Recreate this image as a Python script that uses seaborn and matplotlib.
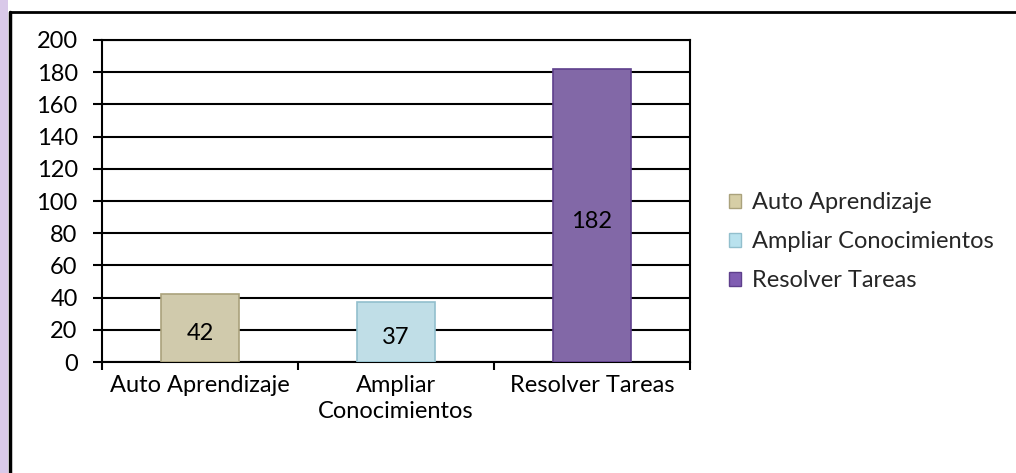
import pandas as pd
import seaborn as sns
from matplotlib import pyplot as plt
from matplotlib.lines import Line2D
from matplotlib.patches import Rectangle

# data
categories = ["Auto Aprendizaje", "Ampliar Conocimientos", "Resolver Tareas"]
tick_labels = ["Auto Aprendizaje", "Ampliar\nConocimientos", "Resolver Tareas"]
values = [42, 37, 182]
colors = ["#d6cea6", "#b9e2ee", "#805db2"]
edge_colors = ["#aaa27c", "#92bfcd", "#5e3f8c"]

sns.set_theme(style="white")
plt.rcParams['font.family'] = ['Lato', 'DejaVu Sans']
FS = 17

df = pd.DataFrame({"cat": categories, "val": values})

fig = plt.figure(figsize=(10.16, 4.73), dpi=100)
W, H = 1016, 473
ax = fig.add_axes([102 / W, 1 - 362 / H, (690 - 102) / W, (362 - 40) / H])

sns.barplot(data=df, x="cat", y="val", hue="cat", palette=colors, width=0.4,
            dodge=False, legend=False, ax=ax, zorder=3)
for bar, ec in zip(ax.patches, edge_colors):
    bar.set_edgecolor(ec)
    bar.set_linewidth(1.2)

# value labels roughly centred in each bar
for bar, v in zip(ax.patches, values):
    ax.annotate(str(v), (bar.get_x() + bar.get_width() / 2, v / 2),
                xytext=(0, -4), textcoords="offset points",
                ha="center", va="center", fontsize=FS, color="black", zorder=4)

ax.set_ylim(0, 200)
ax.set_xlim(-0.5, 2.5)
ax.set_yticks(range(0, 201, 20))
ax.yaxis.grid(True, color="black", linewidth=1.5, zorder=0)
ax.set_axisbelow(True)
for s in ax.spines.values():
    s.set_visible(True)
    s.set_color("black")
    s.set_linewidth(1.5)

ax.set_xticks([0, 1, 2])
ax.set_xticklabels(tick_labels, fontsize=FS, linespacing=1.3)
ax.set_xticks([-0.5, 0.5, 1.5, 2.5], minor=True)
ax.tick_params(axis="x", which="major", length=0, pad=9)
ax.tick_params(axis="x", which="minor", direction="out", length=6, width=1.5, color="black", bottom=True)
ax.tick_params(axis="y", direction="out", length=6.5, width=1.5, color="black", left=True, labelsize=FS, pad=11)
for lbl in ax.get_yticklabels() + ax.get_xticklabels():
    lbl.set_color("black")
ax.set_xlabel("")
ax.set_ylabel("")

# legend on the right
handles = [Rectangle((0, 0), 1, 1, facecolor=c, edgecolor=e) for c, e in zip(colors, edge_colors)]
fig.legend(handles, categories, loc="upper left", bbox_to_anchor=(720 / W, 1 - 183 / H),
           frameon=False, fontsize=FS, handlelength=0.5, handleheight=0.5,
           handletextpad=0.45, labelspacing=0.76, borderaxespad=0)

# outer chart frame (top and left edges) and purple strip
fig.patches.append(Rectangle((0, 0), 8 / W, 1, transform=fig.transFigure,
                             facecolor="#d9c9e9", edgecolor="none"))
fig.lines.append(Line2D([10 / W, 1], [1 - 12 / H, 1 - 12 / H], transform=fig.transFigure,
                        color="black", linewidth=2))
fig.lines.append(Line2D([10 / W, 10 / W], [0, 1 - 12 / H], transform=fig.transFigure,
                        color="black", linewidth=2.5))

fig.savefig("out.png", dpi=100)
